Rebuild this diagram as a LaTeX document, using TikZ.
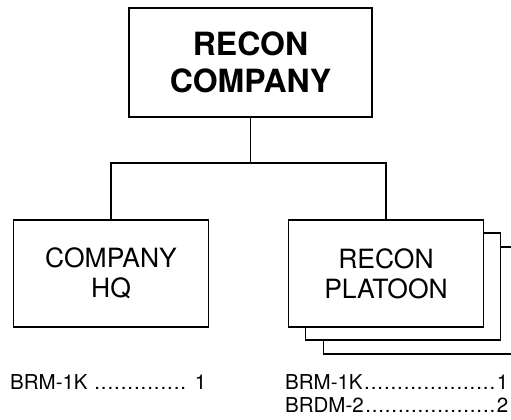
\documentclass[tikz,border=0pt]{standalone}
\usepackage{fontspec}
\setmainfont{TeX Gyre Heros}
\usepackage{tikz}
\usetikzlibrary{calc, positioning}

\newcommand{\listfont}{\fontsize{20.5}{23}\selectfont}
% item, count, width, gap before dots, gap after dots
\newcommand{\dotrow}[5]{\hbox to #3{\listfont #1\hskip #4\xleaders\hbox to 6.3pt{\hss.\hss}\hfill\hskip #5#2}}

\tikzset{
	unitbox/.style={draw, line width=1.3pt, fill=white, align=center, minimum width=195pt, minimum height=107pt, inner sep=0pt},
	topbox/.style={unitbox, minimum width=243pt, minimum height=109pt, font=\fontsize{32}{37}\selectfont\bfseries},
	subbox/.style={unitbox, font=\fontsize{26.5}{30}\selectfont},
	link/.style={line width=1.3pt},
	eqlist/.style={anchor=base west, inner sep=0pt}
}

\begin{document}
\begin{tikzpicture}[x=1pt, y=1pt]
		\useasboundingbox (0,0) rectangle (511,420);
		\clip (0,0) rectangle (511,420);
		\node[topbox] (coy) at (250.5, 357.5) {RECON\\COMPANY};
		\node[subbox] (hq) at (111, 146.5) {COMPANY\\HQ};
		% platoon stack
		\node[subbox] (plt3) at (421, 119.5) {};
		\node[subbox] (plt2) at (403, 133.5) {};
		\node[subbox] (plt) at (386, 146.5) {RECON\\PLATOON};
		\coordinate (bar) at (250.5, 257);
		\draw[link] (coy.south) -- (bar);
		\draw[link] (hq.north) |- (bar) -| (plt.north);
		\node[eqlist] (hqlist) at (10, 30) {\dotrow{BRM-1K}{1}{196pt}{6pt}{8pt}};
		\node[eqlist] (pltlist) at (285, 30) {\dotrow{BRM-1K}{1}{223pt}{1pt}{1pt}};
		\node[eqlist] (pltlist2) at (285, 7) {\dotrow{BRDM-2}{2}{223pt}{1pt}{1pt}};
	\end{tikzpicture}
\end{document}
